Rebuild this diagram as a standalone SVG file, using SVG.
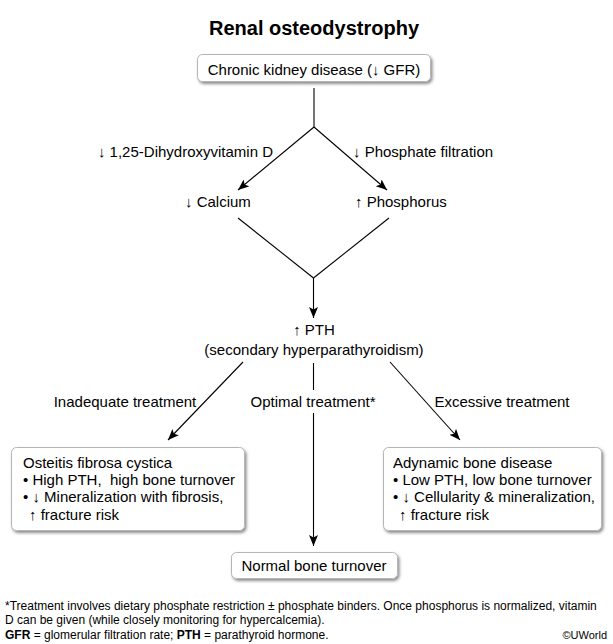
<svg xmlns="http://www.w3.org/2000/svg" width="613" height="644" viewBox="0 0 613 644">
<defs>
<filter id="sh" x="-10%" y="-20%" width="125%" height="150%">
<feDropShadow dx="1.5" dy="2" stdDeviation="1.5" flood-color="#000" flood-opacity="0.45"/>
</filter>
<marker id="ah" markerWidth="12" markerHeight="10" refX="11" refY="4.5" orient="auto" markerUnits="userSpaceOnUse">
<path d="M0,0 L11,4.5 L0,9 L2.5,4.5 Z" fill="#000"/>
</marker>
</defs>
<style>
text{font-family:"Liberation Sans",Arial,sans-serif;fill:#000}
.t{font-size:15px}
.m{text-anchor:middle}
.e{text-anchor:end}
.f{font-size:12px}
.box{fill:#fff;stroke:#b5b5b5;stroke-width:1;filter:url(#sh)}
.ln{stroke:#000;stroke-width:1.1;fill:none}
.ar{marker-end:url(#ah)}
</style>
<rect width="613" height="644" fill="#fff"/>
<text x="314" y="35" class="m" style="font-size:20px;font-weight:bold">Renal osteodystrophy</text>

<g id="connectors">
<line class="ln" x1="314" y1="88" x2="314" y2="127"/>
<line class="ln ar" x1="314" y1="127" x2="238" y2="190"/>
<line class="ln ar" x1="314" y1="127" x2="387" y2="190"/>
<line class="ln" x1="238" y1="218" x2="313.5" y2="278"/>
<line class="ln" x1="389" y1="218" x2="313.5" y2="278"/>
<line class="ln ar" x1="313.5" y1="278" x2="313.5" y2="318"/>
<line class="ln ar" x1="243" y1="362" x2="168" y2="440"/>
<line class="ln ar" x1="390" y1="362" x2="460" y2="440"/>
<line class="ln" x1="313.5" y1="363" x2="313.5" y2="390"/>
<line class="ln ar" x1="313.5" y1="413" x2="313.5" y2="546"/>
</g>

<g id="ckd">
<rect class="box" x="197.5" y="54.5" width="233" height="27" rx="5"/>
<text x="314" y="75" class="t m">Chronic kidney disease (↓ GFR)</text>
</g>
<g id="label-vitd"><text x="273" y="157" class="t e">↓ 1,25-Dihydroxyvitamin D</text></g>
<g id="label-phos"><text x="353" y="157" class="t">↓ Phosphate filtration</text></g>
<g id="calcium"><text x="185" y="207" class="t">↓ Calcium</text></g>
<g id="phosphorus"><text x="355" y="207" class="t">↑ Phosphorus</text></g>
<g id="pth">
<text x="314" y="335" class="t m">↑ PTH</text>
<text x="314" y="355" class="t m">(secondary hyperparathyroidism)</text>
</g>
<g id="label-inadequate"><text x="125" y="407" class="t m">Inadequate treatment</text></g>
<g id="label-optimal"><text x="313" y="407" class="t m">Optimal treatment*</text></g>
<g id="label-excessive"><text x="502" y="407" class="t m">Excessive treatment</text></g>

<g id="osteitis">
<rect class="box" x="11.5" y="447.5" width="233" height="83" rx="5"/>
<text x="23" y="468" class="t">Osteitis fibrosa cystica</text>
<text x="23" y="485" class="t" xml:space="preserve">• High PTH,  high bone turnover</text>
<text x="23" y="502" class="t">• ↓ Mineralization with fibrosis,</text>
<text x="29" y="520" class="t">↑ fracture risk</text>
</g>
<g id="adynamic">
<rect class="box" x="383.5" y="447.5" width="218" height="83" rx="5"/>
<text x="393" y="468" class="t">Adynamic bone disease</text>
<text x="393" y="485" class="t">• Low PTH, low bone turnover</text>
<text x="393" y="502" class="t">• ↓ Cellularity &amp; mineralization,</text>
<text x="399" y="520" class="t">↑ fracture risk</text>
</g>
<g id="normal">
<rect class="box" x="231.5" y="552.5" width="166" height="26" rx="5"/>
<text x="314" y="571" class="t m">Normal bone turnover</text>
</g>

<g id="footnote">
<text x="5" y="610" class="f">*Treatment involves dietary phosphate restriction ± phosphate binders. Once phosphorus is normalized, vitamin</text>
<text x="5" y="624" class="f">D can be given (while closely monitoring for hypercalcemia).</text>
<text x="5" y="639" class="f"><tspan font-weight="bold">GFR</tspan> = glomerular filtration rate; <tspan font-weight="bold">PTH</tspan> = parathyroid hormone.</text>
<text x="607" y="639" class="f e" style="font-size:11px">©UWorld</text>
</g>
</svg>
